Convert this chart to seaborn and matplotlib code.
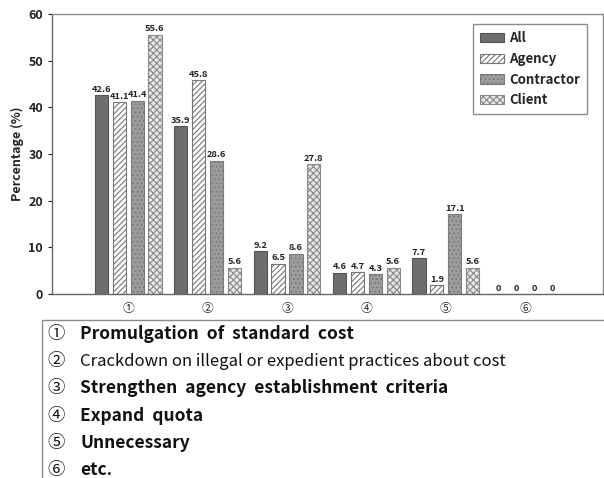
import matplotlib
matplotlib.use("Agg")
import matplotlib.pyplot as plt
from matplotlib.lines import Line2D
import seaborn as sns
import pandas as pd

# Survey results by respondent group
categories = ["①", "②", "③", "④", "⑤", "⑥"]
groups = ["All", "Agency", "Contractor", "Client"]
all_vals = [42.6, 35.9, 9.2, 4.6, 7.7, 0]
agency_vals = [41.1, 45.8, 6.5, 4.7, 1.9, 0]
contractor_vals = [41.4, 28.6, 8.6, 4.3, 17.1, 0]
client_vals = [55.6, 5.6, 27.8, 5.6, 5.6, 0]
descriptions = [
    "Promulgation  of  standard  cost",
    "Crackdown on illegal or expedient practices about cost",
    "Strengthen  agency  establishment  criteria",
    "Expand  quota",
    "Unnecessary",
    "etc.",
]

series = [all_vals, agency_vals, contractor_vals, client_vals]
df = pd.DataFrame({
    "Category": [c for _ in groups for c in categories],
    "Group": [g for g in groups for _ in categories],
    "Percentage": [v for s in series for v in s],
})

sns.set_style("white")
plt.rcParams["font.family"] = ["Noto Sans CJK KR", "DejaVu Sans"]
plt.rcParams["hatch.linewidth"] = 0.8

fig = plt.figure(figsize=(6.04, 4.78), dpi=100)
ax = fig.add_axes([52 / 604, 184 / 478, 551 / 604, 280 / 478])

sns.barplot(data=df, x="Category", y="Percentage", hue="Group",
            order=categories, hue_order=groups, width=0.9, gap=0.26,
            palette=["#6e6e6e", "#ffffff", "#9c9c9c", "#e6e6e6"],
            legend=False, ax=ax)

styles = [
    dict(hatch="", edgecolor="#555555"),
    dict(hatch="//////", edgecolor="#777777"),
    dict(hatch="....", edgecolor="#7a7a7a"),
    dict(hatch="xxxxx", edgecolor="#8a8a8a"),
]
for cont, st, vals in zip(ax.containers, styles, series):
    for p in cont.patches:
        p.set_hatch(st["hatch"])
        p.set_edgecolor(st["edgecolor"])
        p.set_linewidth(0.8)
    ax.bar_label(cont, labels=[f"{v:g}" for v in vals], padding=1,
                 fontsize=6.7, fontweight="bold", color="#222222")

ax.set_ylim(0, 60)
ax.set_xlim(-0.96, 5.98)
ax.set_yticks(range(0, 61, 10))
ax.set_xlabel("")
ax.set_ylabel("Percentage (%)", fontsize=9, fontweight="bold", labelpad=3)
for lbl in ax.get_yticklabels():
    lbl.set_fontweight("bold")
ax.tick_params(axis="y", labelsize=9, length=3, width=0.8, colors="#222222",
               left=True, direction="out")
ax.tick_params(axis="x", labelsize=8.5, length=0, pad=6)
for sp in ax.spines.values():
    sp.set_visible(True)
    sp.set_color("#8c8c8c")
    sp.set_linewidth(1.0)
ax.spines["left"].set_color("#666666")
ax.spines["bottom"].set_color("#666666")

leg = ax.legend(ax.containers, groups, loc="upper right",
                bbox_to_anchor=(0.971, 0.964), borderaxespad=0,
                fancybox=False, edgecolor="#8c8c8c", framealpha=1,
                prop={"weight": "bold", "size": 9.5}, handlelength=1.8,
                handleheight=0.7, handletextpad=0.4, labelspacing=0.5,
                borderpad=0.55)
leg.get_frame().set_linewidth(1.0)

# Key box beneath the chart
fig.add_artist(Line2D([42 / 604, 1.0], [1 - 320 / 478, 1 - 320 / 478],
                      transform=fig.transFigure, color="#8c8c8c", lw=1.0))
fig.add_artist(Line2D([42 / 604, 42 / 604], [1 - 320 / 478, 0.0],
                      transform=fig.transFigure, color="#8c8c8c", lw=1.0))
for i, (cat, text) in enumerate(zip(categories, descriptions)):
    y = 1 - (334 + i * 27.2) / 478
    fig.text(47 / 604, y, cat, fontsize=12.5, va="center", ha="left",
             color="#111111")
    weight = "medium" if i == 1 else "bold"
    size = 12 if i == 1 else 12.5
    fig.text(80 / 604, y, text, fontsize=size, fontweight=weight,
             va="center", ha="left", color="#111111")

fig.savefig("out.png", dpi=100)
